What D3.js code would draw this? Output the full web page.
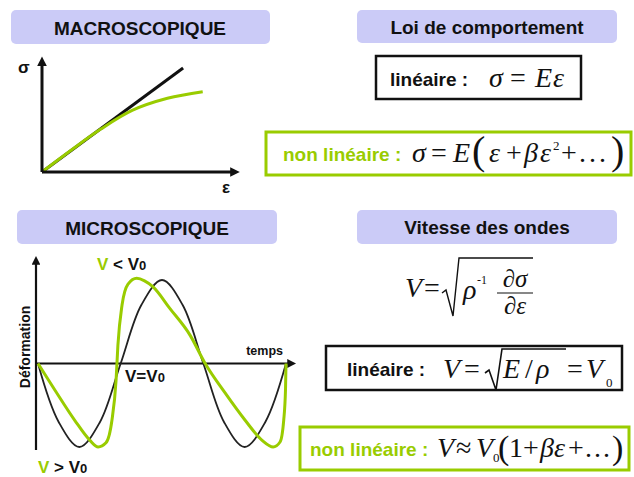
<!DOCTYPE html>
<html>
<head>
<meta charset="utf-8">
<script src="https://cdn.jsdelivr.net/npm/d3@7"></script>
<style>
  html, body { margin: 0; padding: 0; background: #fff; }
  svg { display: block; }
  .head { font-family: "Liberation Sans", Arial, sans-serif; font-weight: bold; font-size: 19px; fill: #111; }
  .lab { font-family: "Liberation Sans", Arial, sans-serif; font-weight: bold; }
  .math { font-family: "Liberation Serif", "Times New Roman", serif; }
</style>
</head>
<body>
<div id="chart"></div>
<script>
(() => {
  // ---- données ----
  const headers = ['MACROSCOPIQUE', 'Loi de comportement', 'MICROSCOPIQUE', 'Vitesse des ondes'];

  // loi de comportement : [epsilon, sigma] (unités arbitraires)
  const macroLinear = [[0, 0], [0.72, 0.945]];
  const macroNonLinear = [[0, 0], [0.15, 0.2], [0.3, 0.39], [0.46, 0.56], [0.64, 0.67], [0.82, 0.73]];

  // onde : [phase en degrés, déformation]
  const waveLinear = [
    [0, 0], [45, -0.7], [90, -1], [135, -0.7], [180, 0], [225, 0.7], [270, 1],
    [315, 0.7], [360, 0], [405, -0.7], [450, -1], [495, -0.7], [540, 0]
  ];
  const waveNonLinear = [
    [0, 0], [37, -0.32], [80, -0.68], [113, -0.92], [131, -1], [148, -0.95], [161, -0.68],
    [170, -0.2], [174, 0.22], [183, 0.7], [196, 0.95], [215, 1.02], [232, 0.99], [250, 0.92],
    [287, 0.66], [331, 0.34], [364, 0], [407, -0.35], [451, -0.68], [488, -0.92], [512, -1],
    [527, -0.94], [535, -0.68], [539, -0.3], [540, 0]
  ];

  const green = '#99cc00';
  const ink = '#111';
  const lavender = '#cbcbf7';

  const svg = d3.select('#chart').append('svg')
      .attr('width', 634).attr('height', 477);

  const defs = svg.append('defs');
  [['arrBig', 4, 3.2], ['arrSmall', 4.5, 4]].forEach(([id, w, h]) => {
    defs.append('marker').attr('id', id)
        .attr('viewBox', '0 0 10 10').attr('refX', 2).attr('refY', 5)
        .attr('markerWidth', w).attr('markerHeight', h).attr('orient', 'auto')
        .attr('markerUnits', 'strokeWidth')
      .append('path').attr('d', 'M0,0 L10,5 L0,10 z').attr('fill', ink);
  });

  // ---- bandeaux titres ----
  const headBoxes = [
    { x: 11, y: 10, w: 259, h: 34, cx: 140, by: 35 },
    { x: 357, y: 10, w: 260, h: 33, cx: 487, by: 34 },
    { x: 17, y: 210, w: 260, h: 34, cx: 147, by: 235 },
    { x: 357, y: 210, w: 260, h: 34, cx: 487, by: 234 }
  ];
  headBoxes.forEach((b, i) => {
    svg.append('rect').attr('x', b.x).attr('y', b.y).attr('width', b.w).attr('height', b.h)
        .attr('rx', 5).attr('fill', lavender);
    svg.append('text').attr('class', 'head').attr('x', b.cx).attr('y', b.by)
        .attr('text-anchor', 'middle').text(headers[i]);
  });

  // ---- MACROSCOPIQUE : sigma(epsilon) ----
  const mx = d3.scaleLinear().domain([0, 1]).range([42, 238]);
  const my = d3.scaleLinear().domain([0, 1]).range([172, 62]);
  const mLine = d3.line().x(d => mx(d[0])).y(d => my(d[1])).curve(d3.curveCatmullRom.alpha(0.5));

  svg.append('path').attr('d', mLine(macroLinear)).attr('fill', 'none')
      .attr('stroke', ink).attr('stroke-width', 3);
  svg.append('path').attr('d', mLine(macroNonLinear)).attr('fill', 'none')
      .attr('stroke', green).attr('stroke-width', 3);
  svg.append('line').attr('x1', mx(0)).attr('y1', my(0)).attr('x2', mx(0)).attr('y2', my(0.98))
      .attr('stroke', ink).attr('stroke-width', 3).attr('marker-end', 'url(#arrBig)');
  svg.append('line').attr('x1', mx(0)).attr('y1', my(0)).attr('x2', mx(0.97)).attr('y2', my(0))
      .attr('stroke', ink).attr('stroke-width', 3).attr('marker-end', 'url(#arrBig)');
  svg.append('text').attr('class', 'lab').attr('x', 18).attr('y', 73)
      .style('font-size', '17px').style('fill', ink).text('σ');
  svg.append('text').attr('class', 'lab').attr('x', 222).attr('y', 193)
      .style('font-size', '17px').style('fill', ink).text('ε');

  // ---- MICROSCOPIQUE : onde ----
  const wx = d3.scaleLinear().domain([0, 540]).range([38, 286]);
  const wy = d3.scaleLinear().domain([-1, 1]).range([447, 280]);
  const blackLine = d3.line().x(d => wx(d[0])).y(d => wy(d[1])).curve(d3.curveCatmullRom.alpha(0.5));
  const greenLine = d3.line().x(d => wx(d[0])).y(d => wy(d[1])).curve(d3.curveMonotoneX);

  svg.append('line').attr('x1', 36).attr('y1', 450).attr('x2', 36).attr('y2', 263)
      .attr('stroke', ink).attr('stroke-width', 2.2).attr('marker-end', 'url(#arrSmall)');
  svg.append('line').attr('x1', 36).attr('y1', wy(0)).attr('x2', 289).attr('y2', wy(0))
      .attr('stroke', ink).attr('stroke-width', 2.2).attr('marker-end', 'url(#arrSmall)');

  svg.append('path').attr('d', blackLine(waveLinear)).attr('fill', 'none')
      .attr('stroke', '#222').attr('stroke-width', 1.8);
  svg.append('path').attr('d', greenLine(waveNonLinear)).attr('fill', 'none')
      .attr('stroke', green).attr('stroke-width', 3);

  svg.append('text').attr('class', 'lab').attr('x', 283).attr('y', 355)
      .attr('text-anchor', 'end').style('font-size', '12.5px').style('fill', ink).text('temps');
  svg.append('text').attr('class', 'lab')
      .attr('transform', 'translate(30,347) rotate(-90)')
      .attr('text-anchor', 'middle').style('font-size', '14px').style('fill', ink).text('Déformation');

  function vLabel(x, y, sign, withGreen) {
    const t = svg.append('text').attr('class', 'lab').attr('x', x).attr('y', y)
        .style('font-size', '17px').style('fill', ink);
    t.append('tspan').style('fill', withGreen ? green : ink).text('V');
    t.append('tspan').text(sign === '=' ? '=V' : ' ' + sign + ' V');
    t.append('tspan').style('font-size', '13px').text('0');
  }
  vLabel(97, 270, '<', true);
  vLabel(125, 382, '=', false);
  vLabel(38, 473, '>', true);

  // ---- formules : chaque morceau placé à sa position ----
  function math(y, parts, size) {
    parts.forEach(p => {
      svg.append('text').attr('class', 'math')
          .attr('x', p.x).attr('y', y + (p.dy || 0))
          .attr('text-anchor', p.a || 'start')
          .style('font-size', (p.s || size || 28) + 'px')
          .style('font-style', p.i ? 'italic' : 'normal')
          .style('letter-spacing', p.ls ? p.ls + 'px' : null)
          .style('fill', ink)
          .text(p.t);
    });
  }
  function label(x, y, txt, col) {
    svg.append('text').attr('class', 'lab').attr('x', x).attr('y', y)
        .style('font-size', '19px').style('fill', col).text(txt);
  }
  function box(x, y, w, h, col, sw) {
    svg.append('rect').attr('x', x).attr('y', y).attr('width', w).attr('height', h)
        .attr('fill', 'none').attr('stroke', col).attr('stroke-width', sw);
  }
  function radical(d, sw) {
    svg.append('path').attr('d', d).attr('fill', 'none')
        .attr('stroke', ink).attr('stroke-width', sw).attr('stroke-linejoin', 'miter');
  }

  // encadré linéaire (loi)
  box(376, 56, 205, 43, ink, 2.5);
  label(390, 86, 'linéaire :', ink);
  math(87, [
    { t: 'σ', x: 489, i: 1 }, { t: '=', x: 510 }, { t: 'E', x: 535, i: 1 }, { t: 'ε', x: 553, i: 1 }
  ]);

  // encadré non linéaire (loi)
  box(266, 132, 365, 43, green, 3);
  label(283, 161, 'non linéaire :', green);
  math(162, [
    { t: 'σ', x: 412, i: 1 }, { t: '=', x: 431 }, { t: 'E', x: 453, i: 1 },
    { t: '(', x: 472, s: 40, dy: 2 }, { t: 'ε', x: 489, i: 1 }, { t: '+', x: 506 },
    { t: 'β', x: 524, i: 1 }, { t: 'ε', x: 540, i: 1 }, { t: '2', x: 553, s: 13, dy: -12 },
    { t: '+', x: 561 }, { t: '...', x: 579, ls: 3 }, { t: ')', x: 611, s: 40, dy: 2 }
  ]);

  // V = sqrt(rho^-1 dsigma/depsilon)
  math(297, [{ t: 'V', x: 405, i: 1 }, { t: '=', x: 424 }]);
  radical('M442,293 L446,290 L453,316 L459,258 L533,258', 1.4);
  math(299, [{ t: 'ρ', x: 463, i: 1 }, { t: '-1', x: 477, s: 12, dy: -15 }]);
  math(287, [{ t: '∂σ', x: 515, i: 1, a: 'middle' }], 25);
  svg.append('line').attr('x1', 497).attr('x2', 533).attr('y1', 293).attr('y2', 293)
      .attr('stroke', ink).attr('stroke-width', 1.2);
  math(314, [{ t: '∂ε', x: 515, i: 1, a: 'middle' }], 25);

  // encadré linéaire (vitesse)
  box(326, 346, 296, 44, ink, 2.5);
  label(347, 376, 'linéaire :', ink);
  math(378, [
    { t: 'V', x: 443, i: 1 }, { t: '=', x: 464 },
    { t: 'E', x: 503, i: 1 }, { t: '/', x: 525 }, { t: 'ρ', x: 536, i: 1 },
    { t: '=', x: 567 }, { t: 'V', x: 586, i: 1 }, { t: '0', x: 606, s: 13, dy: 9 }
  ]);
  radical('M485,373 L489,370 L496,390 L502,349 L566,349', 1.6);

  // encadré non linéaire (vitesse)
  box(300, 427, 329, 43, green, 3);
  label(310, 456, 'non linéaire :', green);
  math(457, [
    { t: 'V', x: 437, i: 1 }, { t: '≈', x: 456 }, { t: 'V', x: 476, i: 1 },
    { t: '0', x: 493, s: 13, dy: 5 }, { t: '(', x: 498, s: 34, dy: 2 }, { t: '1', x: 509 },
    { t: '+', x: 523 }, { t: 'β', x: 540, i: 1 }, { t: 'ε', x: 554, i: 1 }, { t: '+', x: 568 },
    { t: '...', x: 585, ls: 2 }, { t: ')', x: 612, s: 34, dy: 2 }
  ]);
})();
</script>
</body>
</html>
